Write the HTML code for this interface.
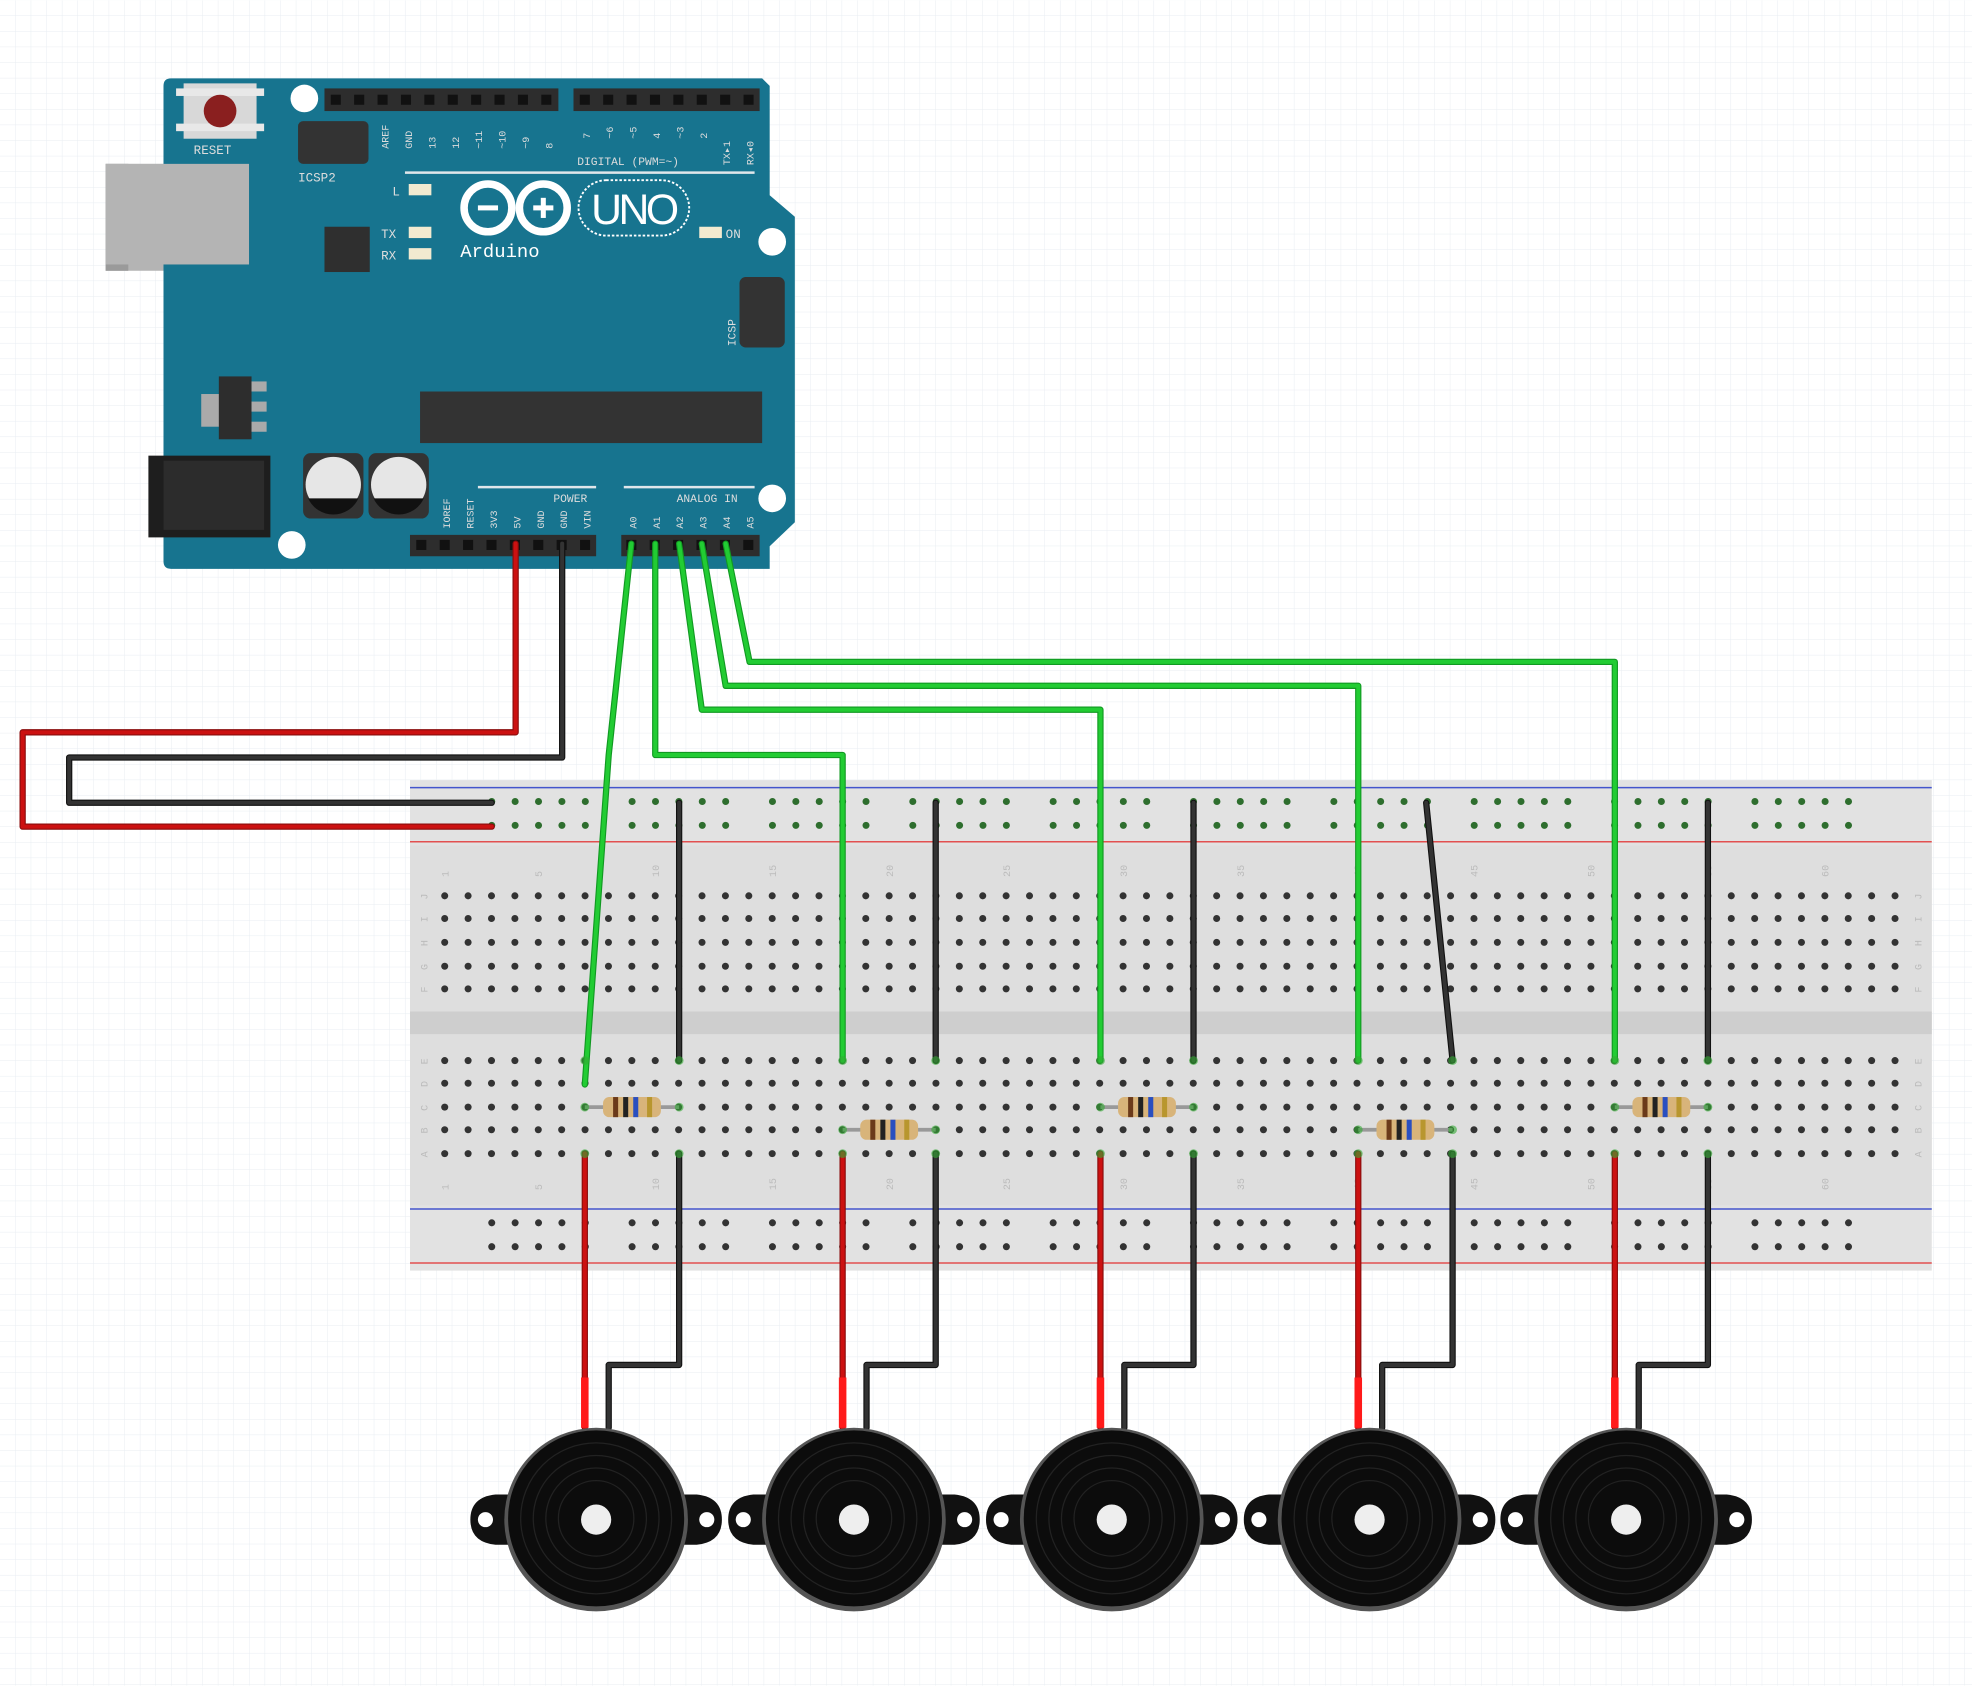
<!DOCTYPE html>
<html><head><meta charset="utf-8"><style>
html,body{margin:0;padding:0;background:#fff;}
svg{display:block;}
text{font-family:"Liberation Mono",monospace;}
</style></head><body>
<svg id="s" width="1972" height="1686" viewBox="0 0 1568 1340" xmlns="http://www.w3.org/2000/svg">
<defs>
<pattern id="g" width="12.4" height="12.4" patternUnits="userSpaceOnUse">
<path d="M12.4 0V12.4H0" fill="none" stroke="#e8edf2" stroke-width="0.8"/>
</pattern>
</defs>
<rect width="1568" height="1340" fill="#fff"/>
<rect width="1568" height="1340" fill="url(#g)"/>

<!-- Arduino -->
<rect x="84" y="130" width="114" height="85" fill="#b4b4b4"/>
<rect x="84" y="130" width="18" height="85" fill="#9a9a9a"/>
<rect x="130" y="122" width="12" height="100" fill="#c8c8c8"/>
<path d="M136 62 H606 L612 68 V155 L632 172 V415 L612 434 V452 H136 Q130 452 130 446 V68 Q130 62 136 62Z" fill="#17748f"/>
<rect x="84" y="130" width="114" height="80" fill="#b4b4b4"/>
<rect x="118" y="362" width="97" height="65" fill="#1e1e1e"/>
<rect x="130" y="366" width="80" height="55" fill="#2c2c2c"/>
<rect x="146" y="66" width="58" height="44" fill="#d8d8d8"/>
<rect x="140" y="70" width="70" height="6" fill="#e8e8e8"/><rect x="140" y="98" width="70" height="6" fill="#e8e8e8"/>
<circle cx="175" cy="88" r="13" fill="#8a1f1f"/>
<text x="154" y="122" font-size="10" fill="#ddd">RESET</text>
<rect x="237" y="96" width="56" height="34" rx="4" fill="#333"/>
<text x="237" y="144" font-size="10" fill="#ddd">ICSP2</text>
<rect x="258" y="70" width="186" height="18" fill="#2d2d2d"/>
<rect x="456" y="70" width="148" height="18" fill="#2d2d2d"/>
<line x1="322" y1="137" x2="600" y2="137" stroke="#e0e6ea" stroke-width="2"/>
<text x="459" y="131" font-size="9" fill="#ddd">DIGITAL (PWM=~)</text>
<rect x="258" y="180" width="36" height="36" fill="#2f2f2f"/>
<rect x="325" y="146" width="18" height="9" fill="#f2ead0"/>
<rect x="325" y="180" width="18" height="9" fill="#f2ead0"/>
<rect x="325" y="197" width="18" height="9" fill="#f2ead0"/>
<rect x="556" y="180" width="18" height="9" fill="#f2ead0"/>
<text x="312" y="155" font-size="10" fill="#ddd">L</text>
<text x="303" y="189" font-size="10" fill="#ddd">TX</text>
<text x="303" y="206" font-size="10" fill="#ddd">RX</text>
<text x="577" y="189" font-size="10" fill="#ddd">ON</text>
<circle cx="388" cy="165" r="19" fill="none" stroke="#fff" stroke-width="6"/>
<circle cx="432" cy="165" r="19" fill="none" stroke="#fff" stroke-width="6"/>
<rect x="380" y="163" width="16" height="4" fill="#fff"/><rect x="424" y="163" width="16" height="4" fill="#fff"/><rect x="430" y="157" width="4" height="16" fill="#fff"/>
<rect x="460" y="143" width="88" height="44" rx="22" fill="none" stroke="#fff" stroke-width="1.5" stroke-dasharray="2 1.5"/>
<text x="470" y="178" font-size="34" fill="#fff" style="font-family:'Liberation Sans',sans-serif" textLength="70">UNO</text>
<text x="366" y="204" font-size="15" fill="#fff">Arduino</text>
<rect x="588" y="220" width="36" height="56" rx="5" fill="#333"/>
<text x="0" y="0" font-size="9" fill="#ddd" transform="translate(585,275) rotate(-90)">ICSP</text>
<rect x="160" y="313" width="16" height="26" fill="#aaa"/>
<rect x="174" y="299" width="26" height="50" fill="#2d2d2d"/>
<rect x="200" y="303" width="12" height="8" fill="#aaa"/><rect x="200" y="319" width="12" height="8" fill="#aaa"/><rect x="200" y="335" width="12" height="8" fill="#aaa"/>
<rect x="334" y="311" width="272" height="41" fill="#333"/>
<rect x="241" y="360" width="48" height="52" rx="6" fill="#333"/>
<rect x="293" y="360" width="48" height="52" rx="6" fill="#333"/>
<circle cx="265" cy="385" r="22" fill="#e6e6e6"/><circle cx="317" cy="385" r="22" fill="#e6e6e6"/>
<path d="M245 396 H285 A22 22 0 0 1 245 396Z" fill="#111"/><path d="M297 396 H337 A22 22 0 0 1 297 396Z" fill="#111"/>
<line x1="380" y1="387" x2="474" y2="387" stroke="#e0e6ea" stroke-width="2"/>
<line x1="496" y1="387" x2="600" y2="387" stroke="#e0e6ea" stroke-width="2"/>
<text x="440" y="399" font-size="9" fill="#ddd">POWER</text>
<text x="538" y="399" font-size="9" fill="#ddd">ANALOG IN</text>
<rect x="326" y="425" width="148" height="17" fill="#2d2d2d"/>
<rect x="494" y="425" width="110" height="17" fill="#2d2d2d"/>
<circle cx="242" cy="78" r="11" fill="#fff"/><circle cx="614" cy="192" r="11" fill="#fff"/>
<circle cx="614" cy="396" r="11" fill="#fff"/><circle cx="232" cy="433" r="11" fill="#fff"/>
<g id="pins"></g>

<!-- breadboard -->
<rect x="326" y="620" width="1210" height="390" fill="#e2e2e2"/>
<rect x="326" y="672" width="1210" height="286" fill="#dedede"/>
<rect x="326" y="804" width="1210" height="18" fill="#cecece"/>
<line x1="326" y1="626" x2="1536" y2="626" stroke="#4455cc" stroke-width="1.2"/>
<line x1="326" y1="669" x2="1536" y2="669" stroke="#e25050" stroke-width="1.2"/>
<line x1="326" y1="961" x2="1536" y2="961" stroke="#4455cc" stroke-width="1.2"/>
<line x1="326" y1="1004" x2="1536" y2="1004" stroke="#e25050" stroke-width="1.2"/>
<g id="holes"></g>
<g id="wires" fill="none" stroke-linejoin="round" stroke-linecap="round"></g>
<g id="parts"></g>
</svg>
<script>
var NS="http://www.w3.org/2000/svg";
function el(p,t,a,txt){var e=document.createElementNS(NS,t);for(var k in a)e.setAttribute(k,a[k]);if(txt)e.textContent=txt;document.getElementById(p).appendChild(e);return e;}
for(var i=0;i<10;i++)el("pins","rect",{x:263+i*18.6,y:75,width:8,height:8,fill:"#111"});
for(var i=0;i<8;i++)el("pins","rect",{x:461+i*18.6,y:75,width:8,height:8,fill:"#111"});
for(var i=0;i<8;i++)el("pins","rect",{x:331+i*18.6,y:429,width:8,height:8,fill:"#111"});
for(var i=0;i<6;i++)el("pins","rect",{x:498+i*18.6,y:429,width:8,height:8,fill:"#111"});
var tl=["AREF","GND","13","12","~11","~10","~9","8"];
for(var i=0;i<8;i++)el("pins","text",{transform:"translate("+(309+i*18.6)+",118) rotate(-90)","font-size":8,fill:"#ddd"},tl[i]);
var tr=["7","~6","~5","4","~3","2","TX▸1","RX◂0"];
for(var i=0;i<8;i++)el("pins","text",{transform:"translate("+(469+i*18.6)+","+(i>5?131:110)+") rotate(-90)","font-size":8,fill:"#ddd"},tr[i]);
var bl=["IOREF","RESET","3V3","5V","GND","GND","VIN"];
for(var i=0;i<7;i++)el("pins","text",{transform:"translate("+(358+i*18.6)+",420) rotate(-90)","font-size":8,fill:"#ddd"},bl[i]);
for(var i=0;i<6;i++)el("pins","text",{transform:"translate("+(506+i*18.6)+",420) rotate(-90)","font-size":8,fill:"#ddd"},"A"+i);
var sp=18.6,x0=353.6;
var rowsT=[712,730,749,768,786],rowsB=[843,861,880,898,917];
for(var c=0;c<63;c++){var x=x0+c*sp;
 rowsT.concat(rowsB).forEach(function(y){el("holes","circle",{cx:x,cy:y,r:2.8,fill:"#333"});});
 if((c+1)%5==0||c==0){el("holes","text",{transform:"translate("+(x+3)+",697) rotate(-90)","font-size":8,fill:"#bbb"},String(c+1));
 el("holes","text",{transform:"translate("+(x+3)+",946) rotate(-90)","font-size":8,fill:"#bbb"},String(c+1));}
}
var lt="JIHGF",lb="EDCBA";
for(var i=0;i<5;i++){el("holes","text",{transform:"translate(340,"+(rowsT[i]+3)+") rotate(-90)","font-size":8,fill:"#bbb"},lt[i]);
el("holes","text",{transform:"translate(340,"+(rowsB[i]+3)+") rotate(-90)","font-size":8,fill:"#bbb"},lb[i]);
el("holes","text",{transform:"translate(1528,"+(rowsT[i]+3)+") rotate(-90)","font-size":8,fill:"#bbb"},lt[i]);
el("holes","text",{transform:"translate(1528,"+(rowsB[i]+3)+") rotate(-90)","font-size":8,fill:"#bbb"},lb[i]);}
for(var g=0;g<10;g++)for(var k=0;k<5;k++){var x=391+g*111.6+k*sp;
 [637,656,972,991].forEach(function(y){el("holes","circle",{cx:x,cy:y,r:2.8,fill:(y<700?"#2e6e2e":"#333")});});}
function w(d,col,dark){el("wires","path",{d:d,stroke:dark,"stroke-width":5});el("wires","path",{d:d,stroke:col,"stroke-width":3.2});}
w("M410 432V582H18V657H391","#cc1111","#8a0c0c");
w("M447 432V602H55V638H391","#333","#111");
var G="#22cc33",GD="#119922";
w("M502 432L484 600L465 862",G,GD);
w("M521 432V600H670V843",G,GD);
w("M540 432L558 564H875V843",G,GD);
w("M558 432L577 545H1080V843",G,GD);
w("M577 432L596 526H1284V843",G,GD);
w("M540 638V843","#333","#111");w("M744 638V843","#333","#111");w("M949 638V843","#333","#111");
w("M1134 638L1155 843","#333","#111");w("M1358 638V843","#333","#111");
var cols=[[465,540,880],[670,744,898],[875,949,880],[1080,1155,898],[1284,1358,880]];
cols.forEach(function(c){
 w("M"+c[0]+" 917V1135","#cc1111","#8a0c0c");
 el("wires","rect",{x:c[0]-3,y:1095,width:6,height:40,fill:"#ff1a1a",stroke:"none"});
 w("M"+c[1]+" 917V1085H"+(c[0]+19)+"V1135","#333","#111");
 el("parts","line",{x1:c[0],y1:c[2],x2:c[1],y2:c[2],stroke:"#999","stroke-width":3});
 var m=(c[0]+c[1])/2;
 el("parts","rect",{x:m-23,y:c[2]-8,width:46,height:16,rx:5,fill:"#d8b47a"});
 [[-15,"#6b3a1a"],[-7,"#222"],[1,"#2a4fc0"],[12,"#b8962e"]].forEach(function(b){el("parts","rect",{x:m+b[0],y:c[2]-8,width:4,height:16,fill:b[1]});});
 var cx=c[0]+9;
 el("parts","path",{d:"M"+(cx-100)+" 1208 Q"+(cx-100)+" 1190 "+(cx-80)+" 1188 L"+(cx+80)+" 1188 Q"+(cx+100)+" 1190 "+(cx+100)+" 1208 Q"+(cx+100)+" 1226 "+(cx+80)+" 1228 L"+(cx-80)+" 1228 Q"+(cx-100)+" 1226 "+(cx-100)+" 1208Z",fill:"#111"});
 el("parts","circle",{cx:cx-88,cy:1208,r:6,fill:"#fff"});el("parts","circle",{cx:cx+88,cy:1208,r:6,fill:"#fff"});
 el("parts","circle",{cx:cx,cy:1208,r:73,fill:"#555"});
 el("parts","circle",{cx:cx,cy:1207,r:70,fill:"#0c0c0c"});
 [60,50,40,30].forEach(function(r){el("parts","circle",{cx:cx,cy:1207,r:r,fill:"none",stroke:"#222","stroke-width":1});});
 el("parts","circle",{cx:cx,cy:1208,r:12,fill:"#eee"});
 [[c[0],843],[c[1],843],[c[0],917],[c[1],917],[c[0],c[2]],[c[1],c[2]]].forEach(function(p){el("parts","circle",{cx:p[0],cy:p[1],r:3.5,fill:"#3a3",opacity:0.6});});
});
</script>
</body></html>
